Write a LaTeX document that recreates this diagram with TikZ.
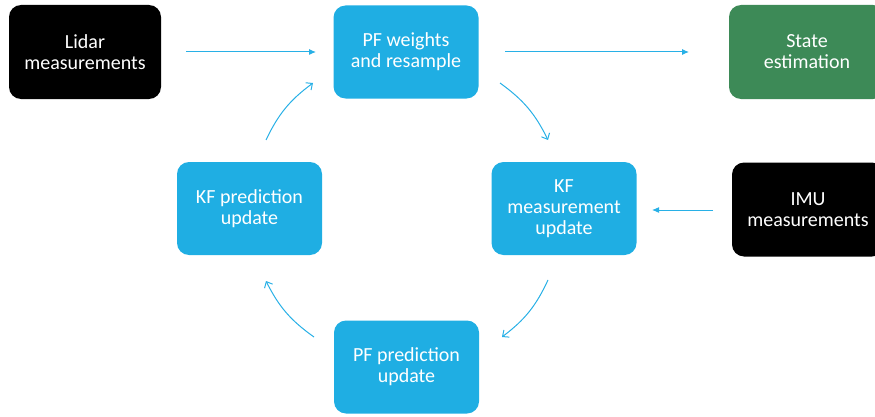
\documentclass[tikz,border=0pt]{standalone}
\usepackage{fontspec}
\setmainfont{Carlito}
\usetikzlibrary{arrows.meta}
\definecolor{boxblue}{RGB}{31,174,227}
\definecolor{boxgreen}{RGB}{61,138,87}
\definecolor{arrowblue}{RGB}{40,176,230}
\tikzset{
  x=1pt, y=1pt,
  box/.style={rounded corners=12pt, text=white, align=center,
    font=\fontsize{20}{21}\selectfont, inner sep=0pt},
  bluebox/.style={box, fill=boxblue, minimum width=145pt, minimum height=93pt},
  darkbox/.style={box, fill=black, minimum width=152pt, minimum height=94pt},
  greenbox/.style={box, fill=boxgreen, minimum width=156pt, minimum height=94pt},
  feed/.style={draw=arrowblue, line width=1pt, -{Latex[length=7pt,width=6pt]}},
  cycle/.style={draw=arrowblue, line width=1pt, -{Straight Barb[length=5pt,width=9pt]}, bend left=14},
}
\begin{document}
\begin{tikzpicture}
\useasboundingbox (0,0) rectangle (875,416);
\begin{scope}
\clip (0,0) rectangle (875,416);
% input and output boxes
\node[darkbox] (lidar) at (85,364) {Lidar\\measurements};
\node[greenbox] (state) at (807,364) {State\\estimation};
\node[darkbox] (imu) at (808,206.5) {IMU\\measurements};
\end{scope}
% filter steps
\node[bluebox] (pfw) at (406,364) {PF weights\\and resample};
\node[bluebox] (kfm) at (564,207.5) {KF\\measurement\\update};
\node[bluebox] (pfp) at (406.5,49) {PF prediction\\update};
\node[bluebox] (kfp) at (249.5,207.5) {KF prediction\\update};

% arrow end points
\coordinate (a1s) at (186,364);  \coordinate (a1e) at (316,364);
\coordinate (a2s) at (505,364);  \coordinate (a2e) at (689,364);
\coordinate (a3s) at (713,206);  \coordinate (a3e) at (652,206);
\coordinate (c1s) at (500,333);  \coordinate (c1e) at (548,276);
\coordinate (c2s) at (548,136);  \coordinate (c2e) at (502,79);
\coordinate (c3s) at (314,79);   \coordinate (c3e) at (266,135);
\coordinate (c4s) at (266,276);  \coordinate (c4e) at (313,333);

% straight feeds
\draw[feed] (a1s) -- (a1e);
\draw[feed] (a2s) -- (a2e);
\draw[feed] (a3s) -- (a3e);

% filter cycle
\draw[cycle] (c1s) to (c1e);
\draw[cycle] (c2s) to (c2e);
\draw[cycle] (c3s) to (c3e);
\draw[cycle] (c4s) to (c4e);
\end{tikzpicture}
\end{document}
